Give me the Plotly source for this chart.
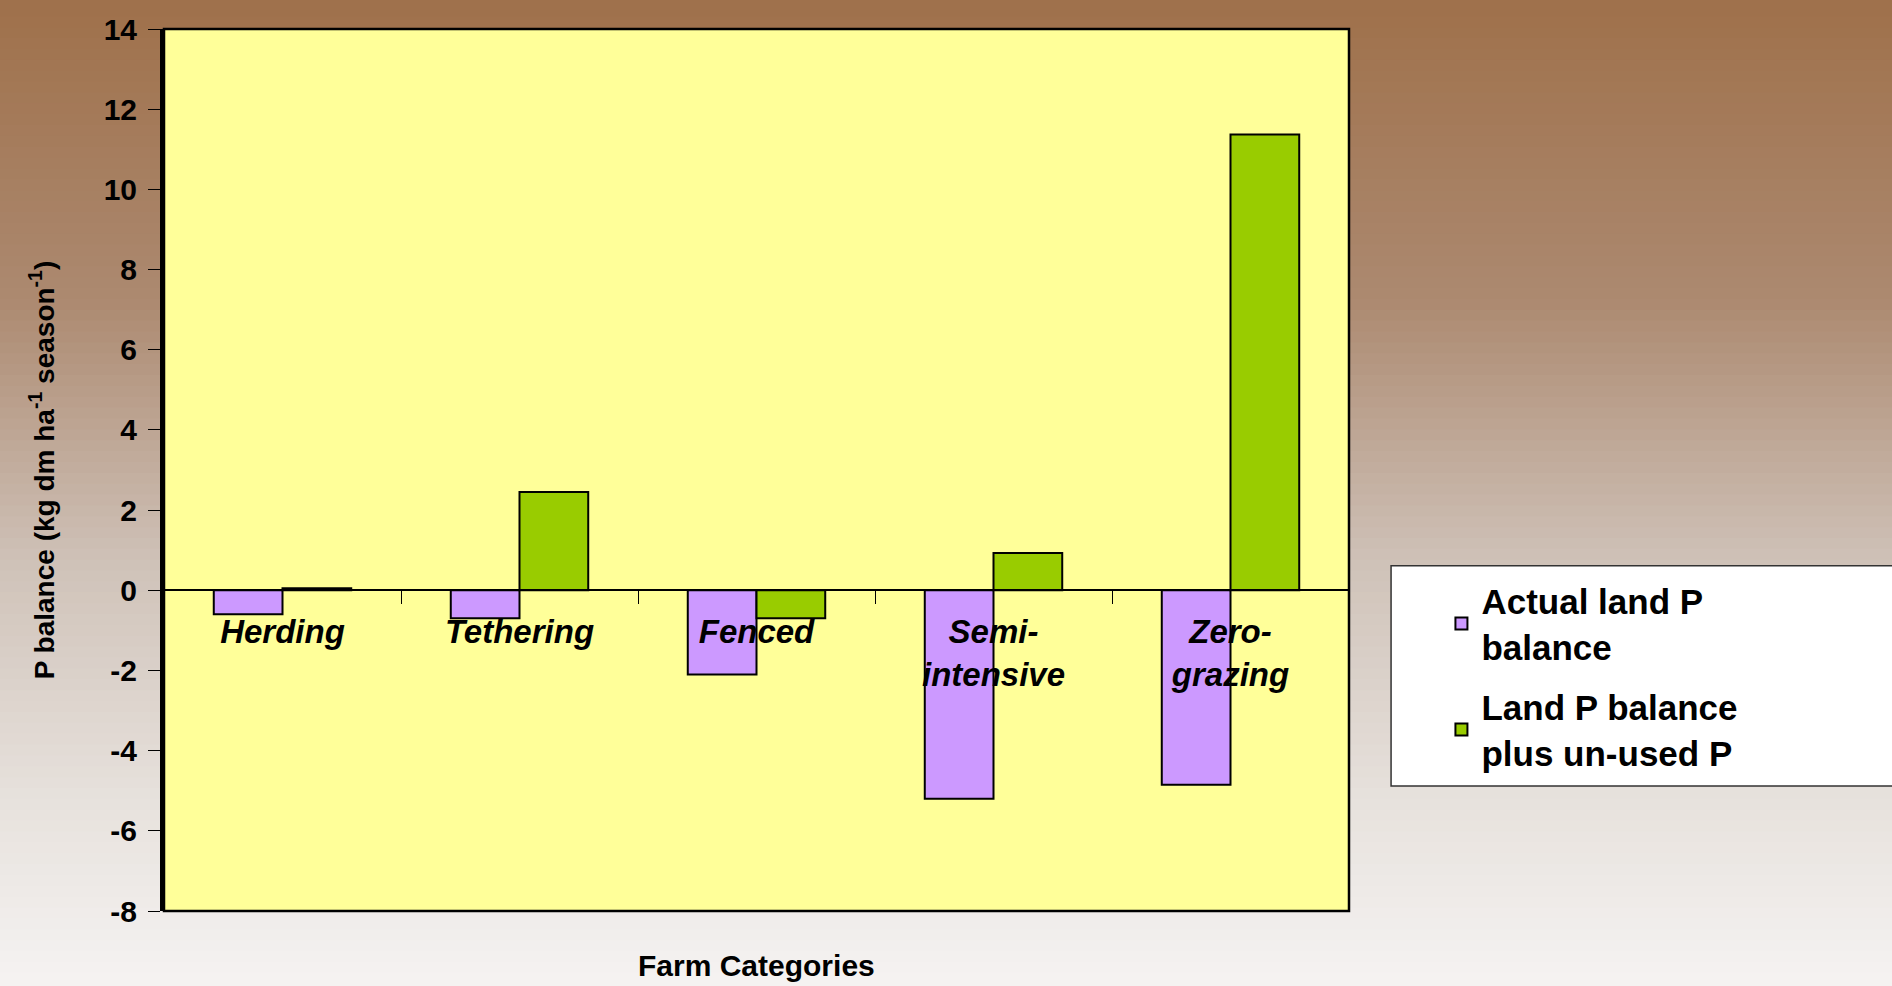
import plotly.graph_objects as go

categories = ["Herding", "Tethering", "Fenced", "Semi-intensive", "Zero-grazing"]
category_labels = ["Herding", "Tethering", "Fenced", "Semi-<br>intensive", "Zero-<br>grazing"]
actual_land_p = [-0.6, -0.7, -2.1, -5.2, -4.85]
land_p_plus_unused = [0.05, 2.45, -0.7, 0.93, 11.37]
y_ticks = [-8, -6, -4, -2, 0, 2, 4, 6, 8, 10, 12, 14]
y_tick_labels = ["-8", "-6", "-4", "-2", "0", "2", "4", "6", "8", "10", "12", "14"]

font_family = "Liberation Sans, Arial, sans-serif"

fig = go.Figure()
fig.add_trace(go.Bar(
    x=categories, y=actual_land_p, name="Actual land P<br>balance", legendgroup="actual",
    marker=dict(color="#CC99FF", line=dict(color="black", width=2)),
))
fig.add_trace(go.Bar(
    x=categories, y=land_p_plus_unused, name="Land P balance<br>plus un-used P", legendgroup="plus",
    marker=dict(color="#99CC00", line=dict(color="black", width=2)),
))

# brown -> pale vertical gradient for the slide background
stops = [(0.0, (159, 113, 75)), (0.3, (172, 137, 112)), (0.57, (207, 194, 184)),
         (0.8, (230, 224, 219)), (1.0, (245, 243, 242))]
n_bands = 90
top, bottom = 1 + 22 / 889, -75 / 889
shapes = []
for i in range(n_bands):
    f = (i + 0.5) / n_bands
    for (f0, c0), (f1, c1) in zip(stops[:-1], stops[1:]):
        if f0 <= f <= f1:
            t = (f - f0) / (f1 - f0)
            c = tuple(round(a + (b - a) * t) for a, b in zip(c0, c1))
            break
    y0 = top - (top - bottom) * i / n_bands
    y1 = top - (top - bottom) * (i + 1) / n_bands
    if i == 0:
        y0 += 0.05
    if i == n_bands - 1:
        y1 -= 0.05
    shapes.append(dict(type="rect", xref="paper", yref="paper", x0=-0.3, x1=1.6,
                       y0=y1 - 0.002, y1=y0 + 0.002, line=dict(width=0),
                       fillcolor="rgb(%d,%d,%d)" % c, layer="below"))
# plot area and legend box
shapes.append(dict(type="rect", xref="paper", yref="paper", x0=0, x1=1, y0=0, y1=1,
                   fillcolor="#FFFF99", line=dict(color="black", width=2.5), layer="below"))
shapes.append(dict(type="rect", xref="paper", yref="paper", x0=1.0355, x1=1.6, y0=0.1417, y1=0.3915,
                   fillcolor="white", line=dict(color="#333333", width=1.5), layer="below"))

fig.update_layout(
    width=1892, height=986,
    margin=dict(l=164, r=543, t=22, b=75),
    paper_bgcolor="#F4F2F1", plot_bgcolor="#FFFF99",
    barmode="group", bargap=0.42, bargroupgap=0,
    shapes=shapes,
    font=dict(family=font_family, color="black"),
    showlegend=True,
    legend=dict(x=1.078, y=0.385, xanchor="left", yanchor="top",
                bgcolor="rgba(0,0,0,0)", font=dict(size=35, weight="bold"),
                tracegroupgap=12, traceorder="grouped"),
    annotations=[dict(text="Farm Categories", xref="paper", yref="paper", x=0.5, y=0,
                      yanchor="middle", yshift=-54, showarrow=False,
                      font=dict(size=30, weight="bold"))],
)
fig.update_xaxes(
    categoryorder="array", categoryarray=categories,
    tickvals=categories, ticktext=category_labels,
    anchor="free", position=8 / 22,
    showline=True, linecolor="black", linewidth=1.5,
    ticks="outside", tickson="boundaries", ticklen=13, tickcolor="black", tickwidth=1,
    tickfont=dict(size=33, weight="bold", style="italic"), ticklabelstandoff=12,
    showgrid=False, zeroline=False,
)
fig.update_yaxes(
    range=[-8, 14], tickvals=y_ticks, ticktext=y_tick_labels, domain=[0, 1],
    showline=True, linecolor="black", linewidth=4,
    ticks="outside", ticklen=12, tickcolor="black", tickwidth=1,
    tickfont=dict(size=30, weight="bold"), ticklabelstandoff=5,
    showgrid=False, zeroline=False,
    title=dict(text="P balance (kg dm ha<sup>-1</sup> season<sup>-1</sup>)",
               font=dict(size=28, weight="bold"), standoff=42),
)

fig.write_html("out.html", config={"displayModeBar": False},
               post_script="document.body.style.margin='0';")
